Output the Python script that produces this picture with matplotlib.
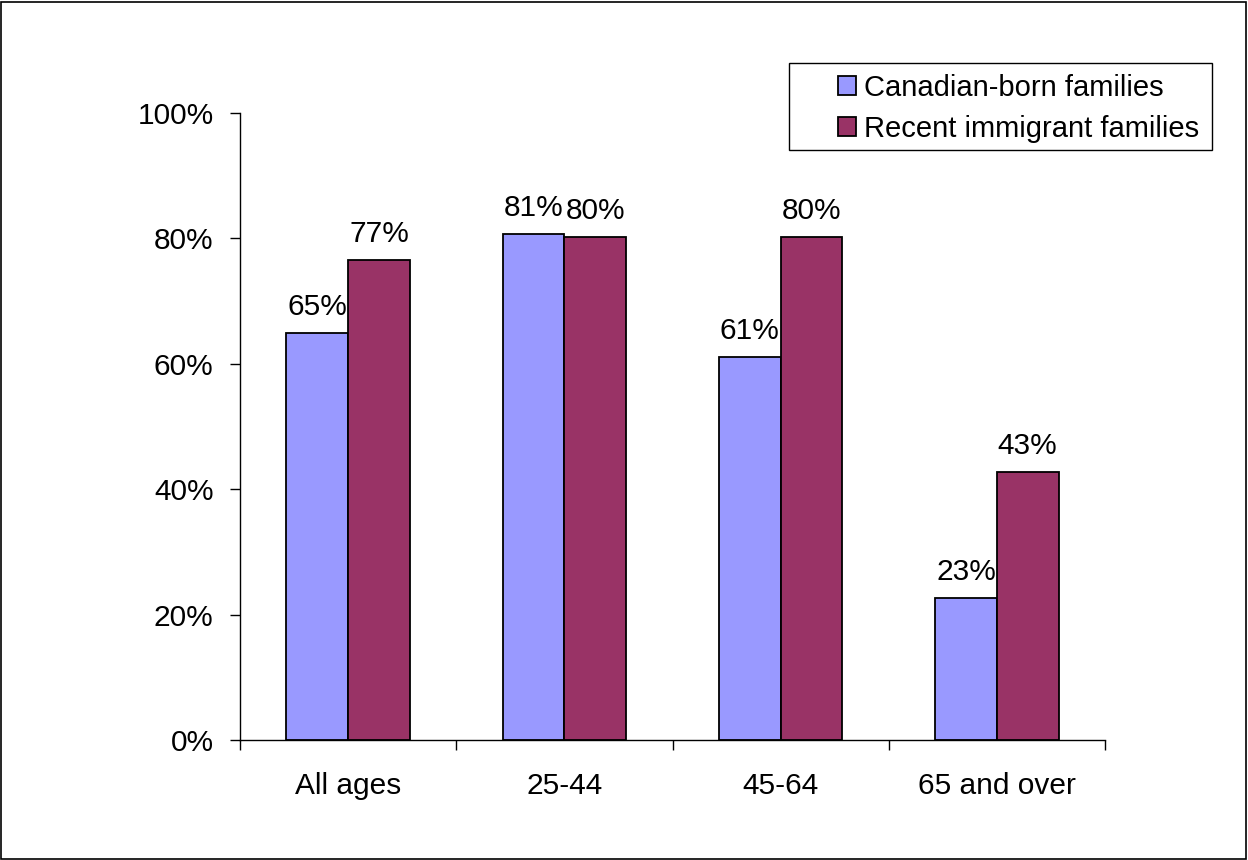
import numpy as np
import matplotlib
matplotlib.use("Agg")
import matplotlib.pyplot as plt
from matplotlib.patches import Rectangle

plt.rcParams['font.family'] = ['Liberation Sans', 'DejaVu Sans']

categories = ['All ages', '25-44', '45-64', '65 and over']
canadian_born = [64.9, 80.7, 61.1, 22.6]
recent_immigrant = [76.6, 80.2, 80.2, 42.7]
series_names = ['Canadian-born families', 'Recent immigrant families']
yticks = [0, 20, 40, 60, 80, 100]

FS = 21.5
W, H = 1248, 860

fig = plt.figure(figsize=(12.48, 8.60), dpi=100)
ax = fig.add_axes([240 / W, 1 - 740 / H, 865 / W, 627 / H])

# border round the whole chart area
fig.patches.append(Rectangle((0.001, 0.001), 0.997, 0.997, transform=fig.transFigure,
                             fill=False, edgecolor='black', linewidth=1.2))
# legend box (drawn by hand, Excel puts a wide left margin in it)
fig.patches.append(Rectangle((789 / W, 1 - 150 / H), 423 / W, 87 / H,
                             transform=fig.transFigure, fill=False,
                             edgecolor='black', linewidth=1.0))

x = np.arange(len(categories))
w = 0.285
b1 = ax.bar(x - w / 2, canadian_born, w, color='#9999FF', edgecolor='black',
            linewidth=1.3, label=series_names[0])
b2 = ax.bar(x + w / 2, recent_immigrant, w, color='#993366', edgecolor='black',
            linewidth=1.3, label=series_names[1])

for bars in (b1, b2):
    for r in bars:
        ax.annotate('{:.0f}%'.format(r.get_height()),
                    (r.get_x() + r.get_width() / 2, r.get_height()),
                    xytext=(0, 13), textcoords='offset points',
                    ha='center', va='baseline', fontsize=FS)

ax.set_xlim(-0.5, len(categories) - 0.5)
ax.set_ylim(0, 100)
ax.set_yticks(yticks)
ax.set_yticklabels(['{}%'.format(t) for t in yticks])
ax.set_xticks(np.arange(len(categories) + 1) - 0.5)
ax.set_xticklabels([])
ax.set_xticks(x, minor=True)
ax.set_xticklabels(categories, minor=True)
ax.tick_params(axis='x', which='minor', length=0, pad=23, labelsize=FS)
ax.tick_params(axis='x', which='major', length=7, width=1)
ax.tick_params(axis='y', length=7, width=1, pad=12, labelsize=FS)

for s in ('top', 'right'):
    ax.spines[s].set_visible(False)
ax.spines['left'].set_linewidth(1)
ax.spines['bottom'].set_linewidth(1)

leg = ax.legend(loc='center left', bbox_to_anchor=(838 / W, 1 - 108.5 / H),
                bbox_transform=fig.transFigure, fontsize=21, frameon=False,
                handlelength=0.62, handleheight=0.62, handletextpad=0.27,
                borderpad=0, labelspacing=0.45, borderaxespad=0)

fig.savefig('out.png', dpi=100)
